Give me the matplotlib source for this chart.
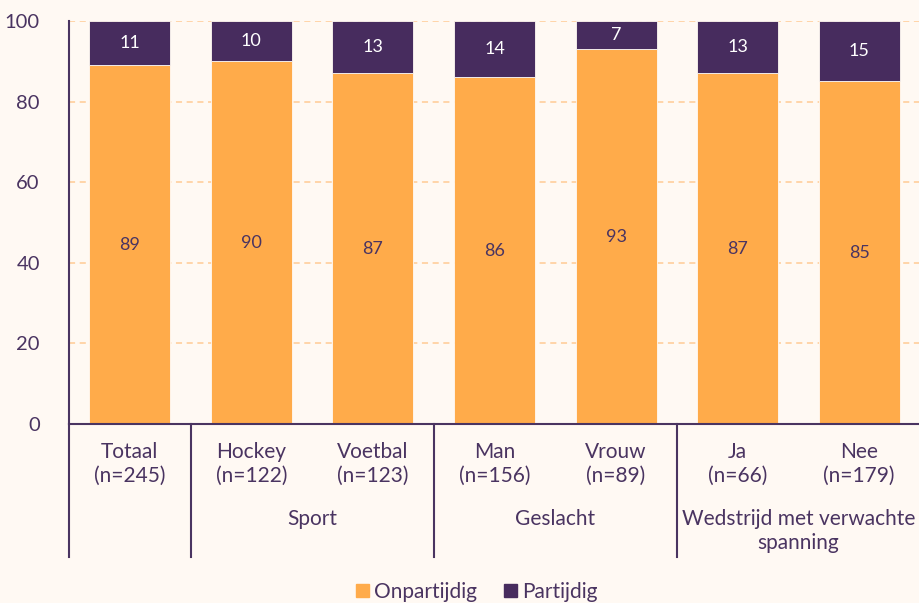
import matplotlib
matplotlib.use("Agg")
import matplotlib.pyplot as plt
import matplotlib.transforms as mtransforms
from matplotlib.patches import Patch

plt.rcParams['font.family'] = ['Lato', 'DejaVu Sans']

categories = ["Totaal\n(n=245)", "Hockey\n(n=122)", "Voetbal\n(n=123)", "Man\n(n=156)",
              "Vrouw\n(n=89)", "Ja\n(n=66)", "Nee\n(n=179)"]
onpartijdig = [89, 90, 87, 86, 93, 87, 85]
partijdig = [11, 10, 13, 14, 7, 13, 15]
groups = ["", "Sport", "Geslacht", "Wedstrijd met verwachte\nspanning"]
group_spans = [(0, 0), (1, 2), (3, 4), (5, 6)]
yticks = [0, 20, 40, 60, 80, 100]

BG = "#FFF9F3"
ORANGE = "#FFAB4A"
PURPLE = "#472C5E"
TEXT = "#4A3461"
GRID = "#FFCB94"

fig = plt.figure(figsize=(9.2, 6.03), dpi=100, facecolor=BG)
ax = fig.add_axes([69/920, (603-424)/603, 851/920, 403/603])
ax.set_facecolor(BG)

x = list(range(len(categories)))
w = 0.667
ax.bar(x, onpartijdig, width=w, color=ORANGE, edgecolor=BG, linewidth=0.6, zorder=3, label="Onpartijdig")
ax.bar(x, partijdig, width=w, bottom=onpartijdig, color=PURPLE, edgecolor=BG, linewidth=0.6, zorder=3, label="Partijdig")

for i in x:
    ax.text(i, onpartijdig[i]/2, str(onpartijdig[i]), ha='center', va='center',
            color=TEXT, fontsize=13, zorder=4)
    ax.text(i, onpartijdig[i] + partijdig[i]/2, str(partijdig[i]), ha='center', va='center',
            color='white', fontsize=13, zorder=4)

ax.set_xlim(-0.5, len(categories) - 0.5)
ax.set_ylim(0, 100)
ax.set_yticks(yticks)
ax.set_yticklabels([str(v) for v in yticks], fontsize=14.5, color=TEXT)
ax.tick_params(axis='y', length=0, pad=21)
ax.set_xticks([])
for y in yticks[1:]:
    ax.axhline(y, color=GRID, linestyle=(0, (4, 3)), linewidth=1.1, zorder=1)

for s in ['top', 'right']:
    ax.spines[s].set_visible(False)
for s in ['left', 'bottom']:
    ax.spines[s].set_color(TEXT)
    ax.spines[s].set_linewidth(1.5)
ax.spines['bottom'].set_zorder(5)

trans = mtransforms.blended_transform_factory(ax.transData, ax.transAxes)
ybot = -(557 - 424) / 403
for a, b in group_spans:
    ax.plot([a - 0.5, a - 0.5], [0, ybot], transform=trans, color=TEXT, lw=1.5, clip_on=False)

for i, c in enumerate(categories):
    ax.text(i, -(442 - 424) / 403, c, transform=trans, ha='center', va='top',
            fontsize=15, color=TEXT, linespacing=1.22)

for g, (a, b) in zip(groups, group_spans):
    if g:
        ax.text((a + b) / 2, -(509 - 424) / 403, g, transform=trans, ha='center', va='top',
                fontsize=15, color=TEXT, linespacing=1.22)

handles = [Patch(color=ORANGE, label="Onpartijdig"), Patch(color=PURPLE, label="Partijdig")]
fig.legend(handles=handles, loc='center', bbox_to_anchor=(477/920, 1 - 592/603), ncol=2,
           frameon=False, fontsize=15, labelcolor=TEXT, handlelength=0.6, handleheight=0.6,
           handletextpad=0.25, columnspacing=1.3)

fig.savefig("out.png", dpi=100, facecolor=BG)
